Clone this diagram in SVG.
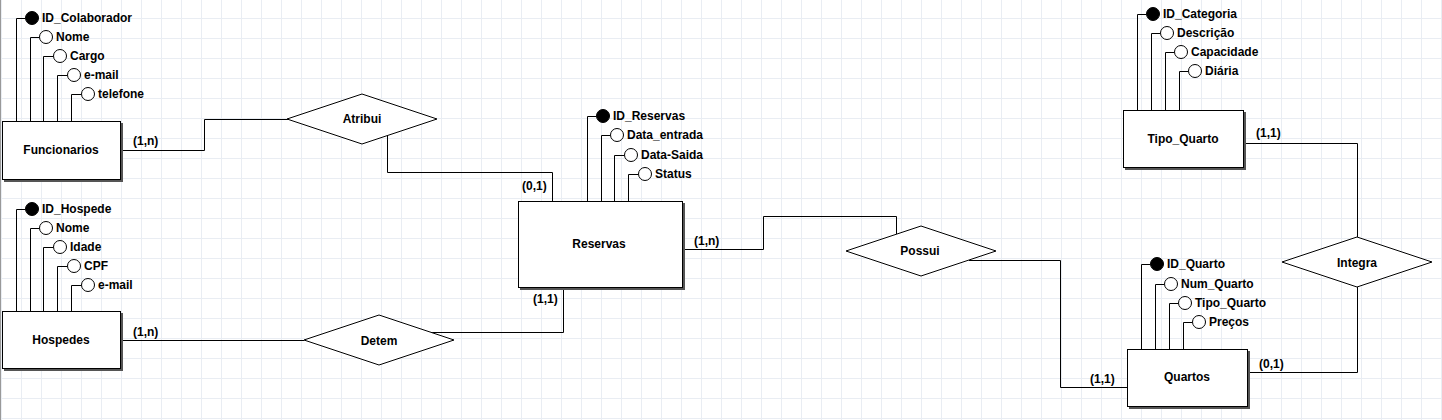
<svg xmlns="http://www.w3.org/2000/svg" width="1442" height="420" viewBox="0 0 1442 420">
<style>
text{font-family:"Liberation Sans",Arial,sans-serif;font-weight:bold;font-size:12px;fill:#000}
.c{text-anchor:middle;dominant-baseline:central}
.box{fill:#fff;stroke:#000;stroke-width:1}
.sh{fill:#555}
.dia{fill:#fff;stroke:#000;stroke-width:1}
.ln{fill:none;stroke:#000;stroke-width:1}
.att{fill:#fff;stroke:#000;stroke-width:1}
.key{fill:#000;stroke:#000;stroke-width:1}
</style>
<defs>
<pattern id="grid" x="1" y="18" width="20" height="20" patternUnits="userSpaceOnUse">
<path d="M0.5 0V20M0 0.5H20" stroke="#e9edf3" stroke-width="1" fill="none"/>
</pattern>
</defs>
<rect width="1442" height="420" fill="#fff"/>
<rect width="1442" height="420" fill="url(#grid)"/>
<rect x="0" y="0" width="1" height="420" fill="#999"/>

<g id="connectors">
<path class="ln" d="M120 150.5H204.5V119.5H288"/>
<text x="133" y="145">(1,n)</text>
<path class="ln" d="M387.5 136V172.5H552.5V201"/>
<text x="522" y="190">(0,1)</text>
<path class="ln" d="M120 340.5H304"/>
<text x="133" y="336">(1,n)</text>
<path class="ln" d="M431 332.5H563.5V287"/>
<text x="533" y="303">(1,1)</text>
<path class="ln" d="M682 249.5H763.5V216.5H896.5V234"/>
<text x="694" y="245">(1,n)</text>
<path class="ln" d="M969 260.5H1060.5V387.5H1127"/>
<text x="1090" y="383">(1,1)</text>
<path class="ln" d="M1243 143.5H1357.5V237"/>
<text x="1256" y="137">(1,1)</text>
<path class="ln" d="M1247 372.5H1357.5V287"/>
<text x="1259" y="368">(0,1)</text>
</g>

<g id="funcionarios">
<path class="ln" d="M16.5 121V18.5H25M30.5 121V37.5H39M43.5 121V56.5H53M57.5 121V75.5H67M71.5 121V94.5H81"/>
<circle class="key" cx="32" cy="18" r="6.5"/><text x="42" y="22">ID_Colaborador</text>
<circle class="att" cx="46" cy="37" r="6.5"/><text x="56" y="41">Nome</text>
<circle class="att" cx="60" cy="56" r="6.5"/><text x="70" y="60">Cargo</text>
<circle class="att" cx="74" cy="75" r="6.5"/><text x="84" y="79">e-mail</text>
<circle class="att" cx="88" cy="94" r="6.5"/><text x="98" y="98">telefone</text>
<rect class="sh" x="4" y="123" width="119" height="59"/>
<rect class="box" x="2.5" y="121.5" width="118" height="58"/>
<text class="c" x="61" y="150">Funcionarios</text>
</g>

<g id="hospedes">
<path class="ln" d="M16.5 311V209.5H25M30.5 311V228.5H39M43.5 311V247.5H53M57.5 311V266.5H67M71.5 311V285.5H81"/>
<circle class="key" cx="32" cy="209" r="6.5"/><text x="42" y="213">ID_Hospede</text>
<circle class="att" cx="46" cy="228" r="6.5"/><text x="56" y="232">Nome</text>
<circle class="att" cx="60" cy="247" r="6.5"/><text x="70" y="251">Idade</text>
<circle class="att" cx="74" cy="266" r="6.5"/><text x="84" y="270">CPF</text>
<circle class="att" cx="88" cy="285" r="6.5"/><text x="98" y="289">e-mail</text>
<rect class="sh" x="4" y="313" width="119" height="58"/>
<rect class="box" x="2.5" y="311.5" width="118" height="57"/>
<text class="c" x="61" y="340">Hospedes</text>
</g>

<g id="reservas">
<path class="ln" d="M587.5 201V116.5H596M601.5 201V135.5H610M614.5 201V155.5H624M628.5 201V174.5H638"/>
<circle class="key" cx="603" cy="116" r="6.5"/><text x="613" y="120">ID_Reservas</text>
<circle class="att" cx="617" cy="135" r="6.5"/><text x="627" y="139">Data_entrada</text>
<circle class="att" cx="631" cy="155" r="6.5"/><text x="641" y="159">Data-Saida</text>
<circle class="att" cx="645" cy="174" r="6.5"/><text x="655" y="178">Status</text>
<rect class="sh" x="520" y="203" width="165" height="87"/>
<rect class="box" x="518.5" y="201.5" width="164" height="86"/>
<text class="c" x="599" y="244">Reservas</text>
</g>

<g id="tipo_quarto">
<path class="ln" d="M1137.5 110V14.5H1146M1151.5 110V33.5H1160M1165.5 110V52.5H1174M1179.5 110V71.5H1188"/>
<circle class="key" cx="1153" cy="14" r="6.5"/><text x="1163" y="18">ID_Categoria</text>
<circle class="att" cx="1167" cy="33" r="6.5"/><text x="1177" y="37">Descrição</text>
<circle class="att" cx="1181" cy="52" r="6.5"/><text x="1191" y="56">Capacidade</text>
<circle class="att" cx="1195" cy="71" r="6.5"/><text x="1205" y="75">Diária</text>
<rect class="sh" x="1125" y="112" width="121" height="58"/>
<rect class="box" x="1123.5" y="110.5" width="120" height="57"/>
<text class="c" x="1183" y="139">Tipo_Quarto</text>
</g>

<g id="quartos">
<path class="ln" d="M1141.5 349V264.5H1150M1155.5 349V284.5H1164M1169.5 349V303.5H1178M1183.5 349V322.5H1192"/>
<circle class="key" cx="1157" cy="264" r="6.5"/><text x="1167" y="268">ID_Quarto</text>
<circle class="att" cx="1171" cy="284" r="6.5"/><text x="1181" y="288">Num_Quarto</text>
<circle class="att" cx="1185" cy="303" r="6.5"/><text x="1195" y="307">Tipo_Quarto</text>
<circle class="att" cx="1199" cy="322" r="6.5"/><text x="1209" y="326">Preços</text>
<rect class="sh" x="1129" y="351" width="121" height="58"/>
<rect class="box" x="1127.5" y="349.5" width="120" height="57"/>
<text class="c" x="1187" y="377">Quartos</text>
</g>

<g id="atribui">
<polygon class="dia" points="287,119 362,94 437,119 362,144"/>
<text class="c" x="362" y="119">Atribui</text>
</g>
<g id="detem">
<polygon class="dia" points="304,340 379,315 454,340 379,365"/>
<text class="c" x="379" y="341">Detem</text>
</g>
<g id="possui">
<polygon class="dia" points="846,251 921,226 996,251 921,276"/>
<text class="c" x="920" y="251">Possui</text>
</g>
<g id="integra">
<polygon class="dia" points="1282,262 1357,237 1432,262 1357,287"/>
<text class="c" x="1357" y="263">Integra</text>
</g>
</svg>
